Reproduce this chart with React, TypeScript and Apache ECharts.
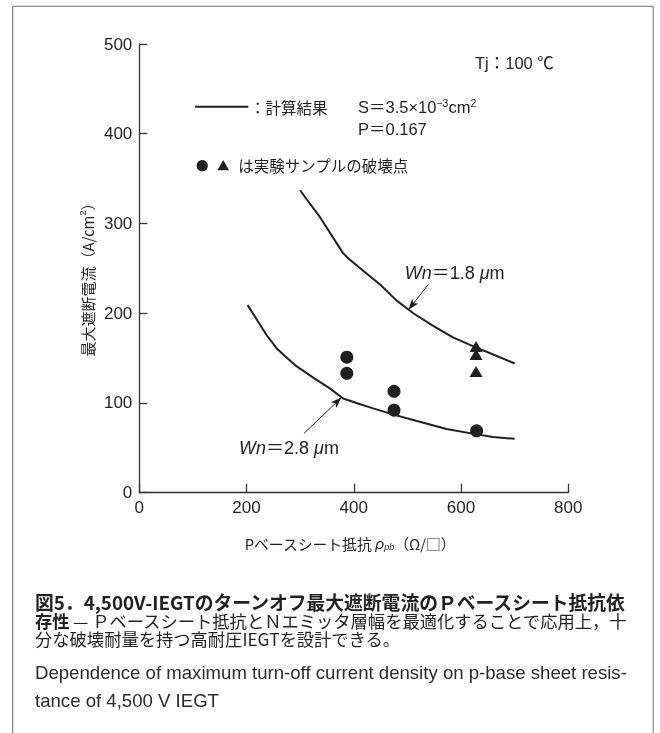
import React, { useEffect, useRef } from "react";
import * as echarts from "echarts";

// ---- data ----
const xTicks = [0, 200, 400, 600, 800];
const yTicks = [0, 100, 200, 300, 400, 500];

// calculated curve, Wn = 1.8 um
const wn18X = [300, 312, 337, 380, 390, 418, 449, 480, 511, 548, 585, 623, 660, 700];
const wn18Y = [337, 327, 307, 267, 261, 247, 232, 214, 200, 186, 173, 163, 154, 144];

// calculated curve, Wn = 2.8 um
const wn28X = [202, 219, 237, 256, 272, 293, 325, 356, 380, 405, 436, 474, 511, 573, 629, 660, 700];
const wn28Y = [209, 193, 176, 161, 152, 141, 128, 116, 105, 100, 94, 87, 81, 71, 65, 62, 60];

// experimental breakdown points
const circleX = [387, 387, 475, 475, 629];
const circleY = [151, 133, 113, 92, 69];
const triangleX = [628, 628, 628];
const triangleY = [163, 154, 135];

// annotation anchors (data coordinates)
const arrow18 = [[539, 232], [502, 204]];
const arrow28 = [[307, 66], [377, 106]];
const label18 = [495, 245];
const label28 = [186, 50];

const INK = "#231f20";
const FONT_LATIN = "'Liberation Sans', Arial, 'Noto Sans CJK JP', sans-serif";
const FONT_JP = "'Noto Sans CJK JP', 'Liberation Sans', sans-serif";

const zip = (xs: number[], ys: number[]) => xs.map((x, i) => [x, ys[i]]);

export default function App() {
  const ref = useRef<HTMLDivElement>(null);

  useEffect(() => {
    const chart = echarts.init(ref.current!, null, { renderer: "svg" });
    const axisLine = { show: true, lineStyle: { color: "#333", width: 1.3 } };
    const arrowMark = (pts: number[][]) => ({
      silent: true,
      symbol: ["none", "arrow"],
      symbolSize: [6, 11],
      label: { show: false },
      lineStyle: { color: INK, width: 1, type: "solid" },
      emphasis: { disabled: true },
      data: [[{ coord: pts[0] }, { coord: pts[1] }]],
    });
    chart.setOption({
      animation: false,
      backgroundColor: "#fff",
      grid: { left: 139.3, right: 91.7, top: 44, bottom: 240.3, containLabel: false },
      xAxis: {
        type: "value",
        min: xTicks[0],
        max: xTicks[xTicks.length - 1],
        interval: xTicks[1] - xTicks[0],
        axisLine,
        axisTick: { show: true, inside: true, length: 9, lineStyle: { color: "#333", width: 1.3 } },
        axisLabel: { fontSize: 17, color: INK, fontFamily: FONT_LATIN, margin: 6 },
        splitLine: { show: false },
      },
      yAxis: {
        type: "value",
        min: yTicks[0],
        max: yTicks[yTicks.length - 1],
        interval: yTicks[1] - yTicks[0],
        axisLine,
        axisTick: { show: true, inside: true, length: 8, lineStyle: { color: "#333", width: 1.3 } },
        axisLabel: { fontSize: 17, color: INK, fontFamily: FONT_LATIN, margin: 7 },
        splitLine: { show: false },
      },
      series: [
        {
          type: "line",
          data: zip(wn18X, wn18Y),
          symbol: "none",
          smooth: false,
          lineStyle: { color: INK, width: 2 },
          markLine: arrowMark(arrow18),
        },
        {
          type: "line",
          data: zip(wn28X, wn28Y),
          symbol: "none",
          smooth: false,
          lineStyle: { color: INK, width: 2 },
          markLine: arrowMark(arrow28),
        },
        {
          type: "scatter",
          data: zip(circleX, circleY),
          symbol: "circle",
          symbolSize: 13,
          itemStyle: { color: INK, opacity: 1 },
          z: 5,
        },
        {
          type: "scatter",
          data: zip(triangleX, triangleY),
          symbol: "triangle",
          symbolSize: [13, 11],
          itemStyle: { color: INK, opacity: 1 },
          z: 5,
        },
      ],
    });

    const px = (pt: number[]) => chart.convertToPixel({ gridIndex: 0 }, pt) as number[];
    const l18 = px(label18);
    const l28 = px(label28);

    const wnRich = {
      i: { fontStyle: "italic", fontSize: 18, fontFamily: FONT_LATIN, fill: INK },
      a: { fontSize: 18, fontFamily: FONT_LATIN, fill: INK },
    };
    const supRich = {
      a: { fontSize: 16.5, fontFamily: FONT_LATIN, fill: INK },
      sup: { fontSize: 10.5, fontFamily: FONT_LATIN, fill: INK, padding: [0, 0, 9, 0] },
    };

    chart.setOption({
      graphic: [
        {
          type: "rect",
          silent: true,
          shape: { x: 12.7, y: 6.3, width: 640.5, height: 800 },
          style: { fill: "none", stroke: "#6d6d6d", lineWidth: 1 },
        },
        {
          type: "text",
          x: 475,
          y: 63,
          style: { text: "Tj：100 ℃", fontSize: 16.5, fontFamily: FONT_LATIN, fill: INK, verticalAlign: "middle" },
        },
        {
          type: "line",
          shape: { x1: 195, y1: 106.7, x2: 248.3, y2: 106.7 },
          style: { stroke: INK, lineWidth: 2 },
        },
        {
          type: "text",
          x: 250,
          y: 107,
          style: { text: "：計算結果", fontSize: 15.5, fontFamily: FONT_JP, fill: INK, verticalAlign: "middle" },
        },
        {
          type: "text",
          x: 358,
          y: 107,
          style: {
            text: "{a|S＝3.5×10}{sup|−3}{a|cm}{sup|2}",
            rich: supRich,
            verticalAlign: "middle",
          },
        },
        {
          type: "text",
          x: 358,
          y: 128.5,
          style: { text: "P＝0.167", fontSize: 16.5, fontFamily: FONT_LATIN, fill: INK, verticalAlign: "middle" },
        },
        {
          type: "text",
          x: 196,
          y: 165,
          style: {
            text: "{s|●}{g|  }{s|▲}{g|  }{j|は実験サンプルの破壊点}",
            rich: {
              s: { fontSize: 12.5, fontFamily: FONT_JP, fill: INK },
              g: { fontSize: 15.5, fontFamily: FONT_LATIN, fill: INK },
              j: { fontSize: 15.5, fontFamily: FONT_JP, fill: INK },
            },
            verticalAlign: "middle",
          },
        },
        {
          type: "text",
          x: l18[0],
          y: l18[1],
          style: { text: "{i|Wn}{a|＝1.8 }{i|μ}{a|m}", rich: wnRich, verticalAlign: "middle" },
        },
        {
          type: "text",
          x: l28[0],
          y: l28[1],
          style: { text: "{i|Wn}{a|＝2.8 }{i|μ}{a|m}", rich: wnRich, verticalAlign: "middle" },
        },
        {
          type: "text",
          x: 87,
          y: 276,
          rotation: Math.PI / 2,
          style: {
            text: "{j|最大遮断電流（A/cm}{sup|2}{j|）}",
            rich: {
              j: { fontSize: 15, fontFamily: FONT_JP, fill: INK },
              sup: { fontSize: 9, fontFamily: FONT_LATIN, fill: INK, padding: [0, 0, 9, 0] },
            },
            fill: INK,
            align: "center",
            verticalAlign: "middle",
          },
        },
        {
          type: "text",
          x: 350,
          y: 543,
          style: {
            text: "{j|Pベースシート抵抗 }{i|ρ}{sub|pb}{j|（Ω/□）}",
            rich: {
              j: { fontSize: 14.8, fontFamily: FONT_JP, fill: INK },
              i: { fontSize: 15.5, fontFamily: FONT_LATIN, fontStyle: "italic", fill: INK },
              sub: { fontSize: 9, fontFamily: FONT_LATIN, fontStyle: "italic", fill: INK, padding: [8, 0, 0, 0] },
            },
            fill: INK,
            align: "center",
            verticalAlign: "middle",
          },
        },
        {
          type: "text",
          x: 35,
          y: 591,
          style: {
            text:
              "{t|図5．4,500V-IEGTのターンオフ最大遮断電流のＰベースシート抵抗依}\n" +
              "{b|存性} {n|— Ｐベースシート抵抗とＮエミッタ層幅を最適化することで応用上，十}\n" +
              "{n|分な破壊耐量を持つ高耐圧IEGTを設計できる。}",
            rich: {
              t: { fontSize: 18.8, fontWeight: "bold", fontFamily: FONT_JP, fill: INK, lineHeight: 20 },
              b: { fontSize: 17.3, fontWeight: "bold", fontFamily: FONT_JP, fill: INK, lineHeight: 18 },
              n: { fontSize: 17.3, fontFamily: FONT_JP, fill: INK, lineHeight: 18 },
            },
            fill: INK,
            verticalAlign: "top",
          },
        },
        {
          type: "text",
          x: 35,
          y: 672,
          style: {
            text: "Dependence of maximum turn-off current density on p-base sheet resis-",
            fontSize: 18.6,
            fontFamily: FONT_LATIN,
            fill: "#2b2b2b",
            verticalAlign: "middle",
          },
        },
        {
          type: "text",
          x: 35,
          y: 700,
          style: {
            text: "tance of 4,500 V IEGT",
            fontSize: 18.6,
            fontFamily: FONT_LATIN,
            fill: "#2b2b2b",
            verticalAlign: "middle",
          },
        },
      ],
    });

    return () => chart.dispose();
  }, []);

  return (
    <div
      ref={ref}
      style={{
        position: "absolute",
        left: 0,
        top: 0,
        width: 660,
        height: 733,
        background: "#fff",
        filter: "grayscale(1)",
      }}
    />
  );
}
